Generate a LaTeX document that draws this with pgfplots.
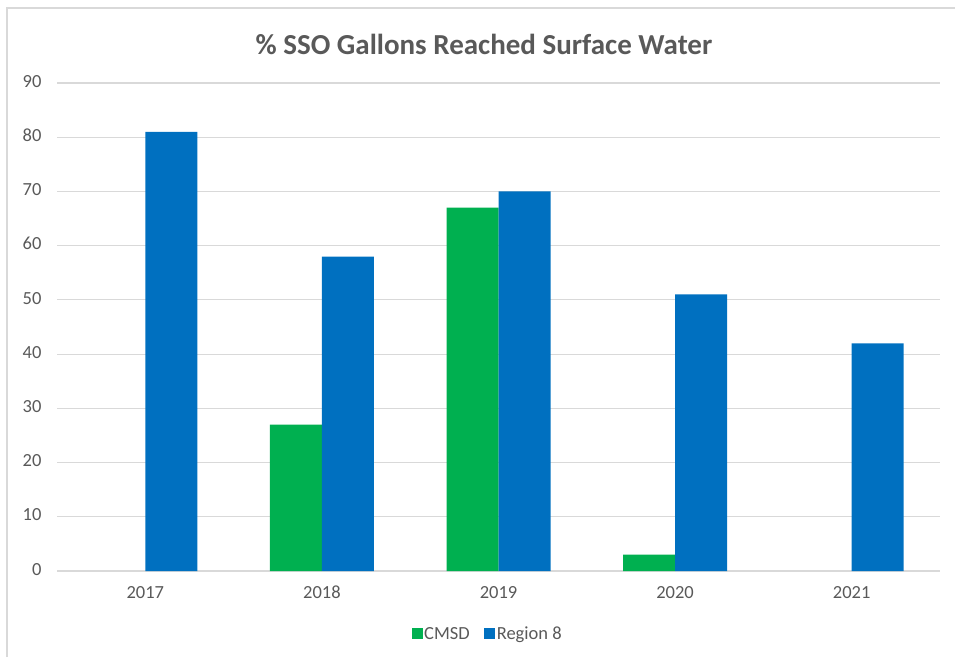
\documentclass[border=0pt]{standalone}
\usepackage{fontspec}
\setmainfont{Carlito}
\usepackage{pgfplots}
\pgfplotsset{compat=1.18}
\definecolor{cmsd}{HTML}{00B050}
\definecolor{regb}{HTML}{0070C0}
\definecolor{gridc}{HTML}{D9D9D9}
\definecolor{txt}{HTML}{595959}
\begin{document}
\begin{tikzpicture}
\useasboundingbox (0,0) rectangle (955pt,-657pt);
\draw[gridc, line width=1.5pt] (7pt,-657pt) -- (7pt,-8pt) -- (955pt,-8pt);
\node[txt, font=\fontsize{29}{32}\selectfont\bfseries] at (484pt,-44pt) {\% SSO Gallons Reached Surface Water};
\begin{axis}[
  at={(57pt,-571pt)}, anchor=south west,
  scale only axis, width=883pt, height=488pt,
  ybar=0pt, bar width=52pt,
  xmin=-0.5, xmax=4.5, ymin=0, ymax=90,
  ytick={0,10,...,90},
  xtick={0,1,2,3,4},
  xticklabels={2017,2018,2019,2020,2021},
  axis line style={draw=none},
  ymajorgrids, grid style={gridc, line width=1.2pt},
  major tick length=0pt,
  /pgf/number format/assume math mode=true,
  typeset ticklabels with strut,
  ticklabel style={txt, font=\fontsize{18.5}{21}\selectfont},
  yticklabel style={xshift=-12pt},
  xticklabel style={yshift=-9pt},
  legend style={at={(0.4875,-0.129)}, anchor=center, draw=none, fill=none,
    legend columns=2, font=\fontsize{18.5}{21}\selectfont, text=txt,
    inner sep=0pt,
    nodes={inner sep=1.5pt},
    /tikz/every even column/.append style={column sep=13pt}},
  legend image code/.code={\fill[#1] (0pt,-5.5pt) rectangle (11pt,5.5pt);},
  clip=false,
]
\addplot[fill=cmsd, draw=none] coordinates {(1,27) (2,67) (3,3)};
\addplot[fill=regb, draw=none] coordinates {(0,81) (1,58) (2,70) (3,51) (4,42)};
\legend{CMSD, Region 8}
\end{axis}
\end{tikzpicture}
\end{document}
